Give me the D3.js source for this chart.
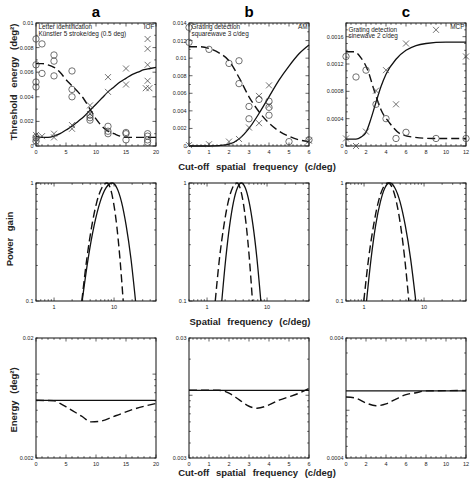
<!DOCTYPE html>
<html>
<head>
<meta charset="utf-8">
<script src="https://cdn.jsdelivr.net/npm/d3@7"></script>
<style>
body { margin: 0; background: #fff; }
svg { font-family: "Liberation Sans", Arial, sans-serif; }
</style>
</head>
<body>
<svg id="chart" width="472" height="478"></svg>
<script>
// ---- data ----

var colTitles = ["a", "b", "c"];
var observers = ["IOF", "AM", "MCP"];
var taskNotes = [
    ["Letter identification", "Künstler 5 stroke/deg (0.5 deg)"],
    ["Grating detection", "squarewave 3 c/deg"],
    ["Grating detection", "sinewave 2 c/deg"]
];

// top row: threshold energy vs cut-off frequency
var aCircles = [[0,0.0087],[0,0.0066],[0,0.0052],[0,0.0048],[0,0.0007],[0,0.0004],
    [1,0.0083],[1,0.0059],[3,0.0074],[3,0.0069],[3,0.0057],
    [6,0.0061],[6,0.0046],[6,0.0040],[9,0.0025],[9,0.0023],[9,0.0021],
    [12,0.0016],[12,0.0012],[12,0.0010],[15,0.0011],[15,0.0010],[15,0.0005],
    [18.6,0.0010],[18.6,0.0008],[18.6,0.0005],[18.6,0.0003]];
var aCrosses = [[0,0.0009],[0,0.0006],[0,0.0003],[1,0.0008],[3,0.0010],[3,0.0007],
    [6,0.0017],[6,0.0014],[9,0.0033],[9,0.0026],[12,0.0056],[12,0.0044],
    [15,0.0063],[15,0.0050],[18.6,0.0087],[18.6,0.0079],[18.6,0.0066],
    [18.6,0.0053],[18.3,0.0047],[18.9,0.0047]];
var aSolid = [[0,0.0008],[1,0.0007],[2,0.0007],[3,0.0008],[4,0.0010],[5,0.0013],[6,0.0016],
    [7,0.0020],[8,0.0024],[9,0.0029],[10,0.0034],[11,0.0039],[12,0.0044],[13,0.0048],
    [14,0.0052],[15,0.0055],[16,0.0058],[17,0.0060],[18,0.0062],[19,0.0063],[20,0.0064]];
var aDashed = [[0,0.0067],[1,0.0067],[2,0.0066],[3,0.0064],[4,0.0060],[5,0.0054],[6,0.0049],
    [7,0.0044],[8,0.0038],[9,0.0030],[10,0.0022],[11,0.0016],[12,0.0012],[13,0.0010],
    [14,0.0008],[15,0.0007],[17,0.0007],[20,0.0007]];

var bCircles = [[0,0.0135],[0,0.0118],[1,0.0110],[2,0.0094],[2.5,0.0097],[2.5,0.0071],
    [3,0.0045],[3,0.0031],[3.5,0.0053],[4,0.0051],[4,0.0044],[4,0.0035],[5,0.0005],[6,0.0007]];
var bCrosses = [[0,0.0001],[1,0.0002],[2,0.0005],[2.5,0.0008],[3,0.0021],[3.5,0.0026],
    [3.5,0.0057],[4,0.0069],[4,0.0046],[6,0.0006]];
var bSolid = [[0,0],[1,0],[1.5,0.00005],[2,0.0002],[2.5,0.0008],[3,0.0020],[3.5,0.0037],
    [4,0.0056],[4.5,0.0075],[5,0.0091],[5.5,0.0105],[6,0.0115]];
var bDashed = [[0,0.0113],[0.5,0.0113],[1,0.0111],[1.5,0.0106],[2,0.0097],[2.5,0.0078],
    [3,0.0056],[3.5,0.0039],[4,0.0026],[4.5,0.0017],[5,0.0011],[5.5,0.0007],[6,0.0005]];

var cCircles = [[0,0.00131],[1,0.00101],[2,0.00111],[3,0.00061],[4,0.00040],[5,0.00011],
    [6,0.00020],[9,0.00011],[12,0.00011]];
var cCrosses = [[0,0.00011],[1,0.0],[2,0.00021],[3,0.00081],[4,0.00111],[5,0.00061],
    [6,0.00150],[9,0.00170],[12,0.00131]];
var cSolid = [[0,0.0001],[1,0.0001],[1.5,0.00013],[2,0.0002],[2.5,0.0004],[3,0.00064],
    [3.5,0.00087],[4,0.00105],[5,0.00127],[6,0.0014],[7,0.00147],[8,0.0015],[10,0.00152],[12,0.00152]];
var cDashed = [[0,0.00138],[0.8,0.00138],[1.5,0.00129],[2.2,0.0011],[2.8,0.00082],[3.5,0.00053],
    [4.4,0.00033],[5.4,0.00018],[6.7,0.00013],[8.7,0.00011],[12,0.00011]];

// middle row: power gain vs spatial frequency
var aGainSolid = [[2.94,0.1],[3.70,0.229],[4.66,0.437],[5.86,0.692],[7.38,0.912],[9.29,1],
    [11.1,0.912],[13.3,0.692],[15.9,0.437],[19.1,0.229],[22.8,0.1]];
var aGainDashed = [[2.90,0.1],[3.52,0.229],[4.27,0.437],[5.16,0.692],[6.27,0.912],[7.60,1],
    [8.61,0.912],[9.75,0.692],[11.07,0.437],[12.53,0.229],[14.2,0.1]];
var bGainSolid = [[1.76,0.1],[2.05,0.229],[2.38,0.437],[2.76,0.692],[3.21,0.912],[3.72,1],
    [4.33,0.912],[5.02,0.692],[5.83,0.437],[6.78,0.229],[7.87,0.1]];
var bGainDashed = [[1.37,0.1],[1.61,0.229],[1.91,0.437],[2.25,0.692],[2.66,0.912],[3.14,1],
    [3.54,0.912],[3.99,0.692],[4.50,0.437],[5.07,0.229],[5.71,0.1]];
var cGainSolid = [[1.10,0.1],[1.31,0.229],[1.56,0.437],[1.87,0.692],[2.23,0.912],[2.66,1],
    [3.25,0.912],[3.98,0.692],[4.86,0.437],[5.96,0.229],[7.28,0.1]];
var cGainDashed = [[0.99,0.1],[1.19,0.229],[1.44,0.437],[1.73,0.692],[2.08,0.912],[2.51,1],
    [2.95,0.912],[3.46,0.692],[4.06,0.437],[4.76,0.229],[5.58,0.1]];

// bottom row: energy vs cut-off frequency
var aEnergySolid = [[0,0.00605],[20,0.00605]];
var aEnergyDashed = [[0,0.00605],[3,0.0060],[4,0.0057],[5.4,0.0052],[7.6,0.00446],[9.2,0.0040],
    [10.6,0.00404],[13.4,0.00452],[16.1,0.00507],[20,0.0057]];
var bEnergySolid = [[0,0.0110],[6,0.0110]];
var bEnergyDashed = [[0,0.0110],[1.5,0.0110],[2,0.0104],[2.5,0.0092],[3,0.0081],[3.4,0.0078],
    [4,0.0083],[4.5,0.0091],[5,0.0097],[5.5,0.0104],[6,0.0114]];
var cEnergySolid = [[0,0.00145],[12,0.00145]];
var cEnergyDashed = [[0,0.00129],[1,0.00126],[2,0.00115],[3,0.00109],[4,0.00113],[5,0.00124],
    [6,0.00135],[7,0.0014],[8,0.00145],[12,0.00146]];

// axis ranges and tick labels
var cutoffDomains = [[0,20],[0,6],[0,12]];
var cutoffTickLabels = [[0,5,10,15,20],[0,1,2,3,4,5,6],[0,2,4,6,8,10,12]];
var thresholdDomains = [[0,0.01],[0,0.014],[0,0.0018]];
var thresholdTickLabels = [[0,0.002,0.004,0.006,0.008,0.01],
    [0,0.002,0.004,0.006,0.008,0.01,0.012,0.014],
    [0,0.0004,0.0008,0.0012,0.0016]];
var freqDomain = [0.5, 50];
var freqTickLabels = [1, 10];
var gainDomain = [0.1, 1];
var gainTickLabels = [0.1, 1];
var energyDomains = [[0.002,0.02],[0.003,0.03],[0.0004,0.004]];

// ---- layout ----
var svg = d3.select("#chart");
var colLeft = [36, 189, 346];
var W = 120;
var rowTop = [23, 183, 338];
var rowH = [123, 118, 120];
var xMinorStep = [1, 0.2, 0.5];
var yMinorStep = [0.001, 0.001, 0.0001];
var fmt = d3.format("~g");

var circlesAll = [aCircles, bCircles, cCircles];
var crossesAll = [aCrosses, bCrosses, cCrosses];
var solidAll = [aSolid, bSolid, cSolid];
var dashedAll = [aDashed, bDashed, cDashed];
var gainSolidAll = [aGainSolid, bGainSolid, cGainSolid];
var gainDashedAll = [aGainDashed, bGainDashed, cGainDashed];
var energySolidAll = [aEnergySolid, bEnergySolid, cEnergySolid];
var energyDashedAll = [aEnergyDashed, bEnergyDashed, cEnergyDashed];

// ticks pointing inward on all four sides
function drawTicks(g, xs, ys, xTicks, yTicks, h) {
    var w = W;
    xTicks.forEach(function(t) {
        var x = xs(t.v), len = t.major ? 3.5 : 1.8;
        g.append("line").attr("x1", x).attr("x2", x).attr("y1", h).attr("y2", h - len);
        g.append("line").attr("x1", x).attr("x2", x).attr("y1", 0).attr("y2", len);
    });
    yTicks.forEach(function(t) {
        var y = ys(t.v), len = t.major ? 3.5 : 1.8;
        g.append("line").attr("x1", 0).attr("x2", len).attr("y1", y).attr("y2", y);
        g.append("line").attr("x1", w).attr("x2", w - len).attr("y1", y).attr("y2", y);
    });
    g.selectAll("line").attr("stroke", "#222").attr("stroke-width", 0.7);
}

function linTicks(domain, step, majors) {
    var out = [];
    var n = Math.round((domain[1] - domain[0]) / step);
    for (var i = 0; i <= n; i++) {
        var v = domain[0] + i * step;
        var major = majors.some(function(m) { return Math.abs(m - v) < step / 10; });
        out.push({v: v, major: major});
    }
    return out;
}

function logTicks(domain) {
    var out = [];
    var e0 = Math.floor(Math.log10(domain[0])), e1 = Math.ceil(Math.log10(domain[1]));
    for (var e = e0; e <= e1; e++) {
        for (var k = 1; k <= 9; k++) {
            var v = k * Math.pow(10, e);
            if (v >= domain[0] * 0.999 && v <= domain[1] * 1.001) out.push({v: v, major: k === 1});
        }
    }
    return out;
}

function frame(g, h) {
    g.append("rect")
        .attr("width", W).attr("height", h)
        .attr("fill", "none").attr("stroke", "#111").attr("stroke-width", 1);
}

function drawLine(g, data, xs, ys, dashed) {
    var line = d3.line()
        .x(function(d) { return xs(d[0]); })
        .y(function(d) { return ys(d[1]); })
        .curve(d3.curveMonotoneX);
    g.append("path")
        .attr("d", line(data))
        .attr("fill", "none")
        .attr("stroke", "#111")
        .attr("stroke-width", dashed ? 1.4 : 1.3)
        .attr("stroke-dasharray", dashed ? "8,4" : null);
}

function yLabels(g, ys, values, fmtFn) {
    g.selectAll(".ylab")
        .data(values)
        .enter()
        .append("text")
        .attr("x", -2.5)
        .attr("y", function(d) { return ys(d) + 2; })
        .attr("text-anchor", "end")
        .attr("font-size", "5.5px")
        .attr("fill", "#222")
        .text(fmtFn);
}

function xLabels(g, xs, values, h) {
    g.selectAll(".xlab")
        .data(values)
        .enter()
        .append("text")
        .attr("x", function(d) { return xs(d); })
        .attr("y", h + 7.5)
        .attr("text-anchor", "middle")
        .attr("font-size", "5.5px")
        .attr("fill", "#222")
        .text(fmt);
}

for (let c = 0; c < 3; c++) {
    // ---- top row ----
    var h = rowH[0];
    var g = svg.append("g").attr("transform", "translate(" + colLeft[c] + "," + rowTop[0] + ")");
    var xs = d3.scaleLinear().domain(cutoffDomains[c]).range([0, W]);
    var ys = d3.scaleLinear().domain(thresholdDomains[c]).range([h, 0]);

    drawTicks(g.append("g"), xs, ys,
        linTicks(cutoffDomains[c], xMinorStep[c], cutoffTickLabels[c]),
        linTicks(thresholdDomains[c], yMinorStep[c], thresholdTickLabels[c]), h);
    frame(g, h);
    yLabels(g, ys, thresholdTickLabels[c], fmt);
    xLabels(g, xs, cutoffTickLabels[c], h);

    drawLine(g, solidAll[c], xs, ys, false);
    drawLine(g, dashedAll[c], xs, ys, true);

    g.selectAll(".circ")
        .data(circlesAll[c])
        .enter()
        .append("circle")
        .attr("cx", function(d) { return xs(d[0]); })
        .attr("cy", function(d) { return ys(d[1]); })
        .attr("r", 3.2)
        .attr("fill", "none")
        .attr("stroke", "#444")
        .attr("stroke-width", 0.75);

    g.selectAll(".cross")
        .data(crossesAll[c])
        .enter()
        .append("path")
        .attr("transform", function(d) { return "translate(" + xs(d[0]) + "," + ys(d[1]) + ")"; })
        .attr("d", "M-3,-3L3,3M-3,3L3,-3")
        .attr("stroke", "#444")
        .attr("stroke-width", 0.75);

    // task description and observer
    g.selectAll(".note")
        .data(taskNotes[c])
        .enter()
        .append("text")
        .attr("x", 2.5)
        .attr("y", function(d, i) { return (c === 2 ? 8.5 : 6) + i * 6.8; })
        .attr("font-size", "6.4px")
        .attr("fill", "#222")
        .text(function(d) { return d; });
    g.append("text")
        .attr("x", W - 1.5)
        .attr("y", 6)
        .attr("text-anchor", "end")
        .attr("font-size", "6.4px")
        .attr("fill", "#222")
        .text(observers[c]);

    // column title
    svg.append("text")
        .attr("x", colLeft[c] + W / 2)
        .attr("y", 17)
        .attr("text-anchor", "middle")
        .attr("font-size", "15px")
        .attr("font-weight", "bold")
        .text(colTitles[c]);

    // ---- middle row ----
    h = rowH[1];
    g = svg.append("g").attr("transform", "translate(" + colLeft[c] + "," + rowTop[1] + ")");
    xs = d3.scaleLog().domain(freqDomain).range([0, W]);
    ys = d3.scaleLog().domain(gainDomain).range([h, 0]);
    drawTicks(g.append("g"), xs, ys, logTicks(freqDomain), logTicks(gainDomain), h);
    frame(g, h);
    yLabels(g, ys, gainTickLabels, fmt);
    xLabels(g, xs, freqTickLabels, h);
    drawLine(g, gainSolidAll[c], xs, ys, false);
    drawLine(g, gainDashedAll[c], xs, ys, true);

    // ---- bottom row ----
    h = rowH[2];
    g = svg.append("g").attr("transform", "translate(" + colLeft[c] + "," + rowTop[2] + ")");
    xs = d3.scaleLinear().domain(cutoffDomains[c]).range([0, W]);
    ys = d3.scaleLog().domain(energyDomains[c]).range([h, 0]);
    drawTicks(g.append("g"), xs, ys,
        linTicks(cutoffDomains[c], xMinorStep[c], cutoffTickLabels[c]),
        logTicks(energyDomains[c]), h);
    frame(g, h);
    yLabels(g, ys, energyDomains[c], fmt);
    xLabels(g, xs, cutoffTickLabels[c], h);
    drawLine(g, energySolidAll[c], xs, ys, false);
    drawLine(g, energyDashedAll[c], xs, ys, true);
}

// ---- axis titles ----
function title(x, y, txt, rotate) {
    var t = svg.append("text")
        .attr("text-anchor", "middle")
        .attr("font-size", "9.5px")
        .attr("font-weight", "bold")
        .attr("word-spacing", "4px")
        .attr("fill", "#222")
        .text(txt);
    if (rotate) t.attr("transform", "translate(" + x + "," + y + ") rotate(-90)");
    else t.attr("x", x).attr("y", y);
}

title(17, 82, "Threshold energy (deg²)", true);
title(13, 239, "Power gain", true);
title(17, 400, "Energy (deg²)", true);
title(257, 170, "Cut-off spatial frequency (c/deg)", false);
title(250, 325, "Spatial frequency (c/deg)", false);
title(257, 476, "Cut-off spatial frequency (c/deg)", false);
</script>
</body>
</html>
